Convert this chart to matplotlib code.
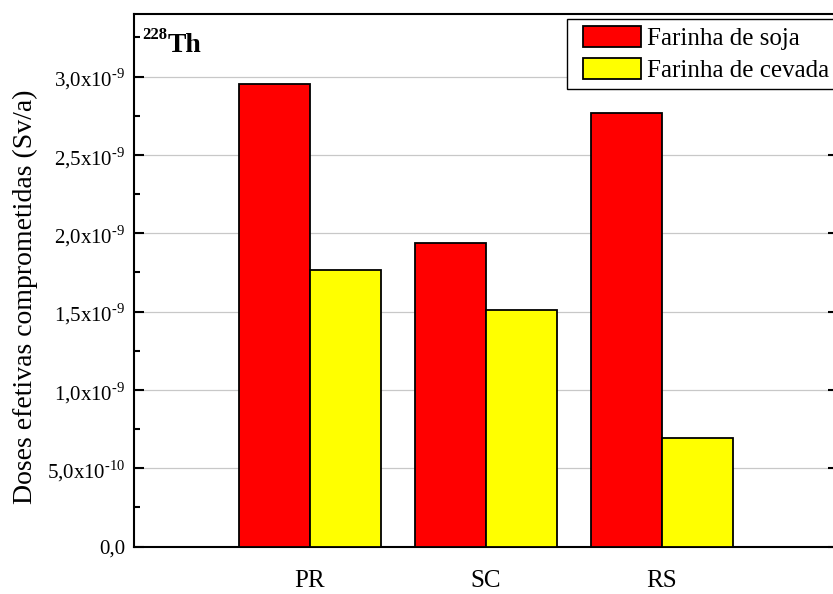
import matplotlib
matplotlib.use("Agg")
import matplotlib.pyplot as plt
from matplotlib.ticker import FixedLocator, MultipleLocator
from matplotlib.legend_handler import HandlerPatch
from matplotlib.patches import Rectangle
from matplotlib.container import BarContainer
import numpy as np

plt.rcParams['font.family'] = ['Liberation Serif', 'DejaVu Serif']
plt.rcParams['mathtext.fontset'] = 'custom'
plt.rcParams['mathtext.rm'] = 'Liberation Serif'

# Data
regions = ['PR', 'SC', 'RS']
series_names = ['Farinha de soja', 'Farinha de cevada']
soja = [2.95e-9, 1.94e-9, 2.77e-9]
cevada = [1.766e-9, 1.511e-9, 0.692e-9]
ytick_values = [0.0, 0.5e-9, 1.0e-9, 1.5e-9, 2.0e-9, 2.5e-9, 3.0e-9]
ytick_labels = ['0,0',
                r'5,0x10$^{\text{-10}}$',
                r'1,0x10$^{\text{-9}}$',
                r'1,5x10$^{\text{-9}}$',
                r'2,0x10$^{\text{-9}}$',
                r'2,5x10$^{\text{-9}}$',
                r'3,0x10$^{\text{-9}}$']

W, H = 833, 594
fig = plt.figure(figsize=(W / 100, H / 100), dpi=100)
ax = fig.add_axes([134 / W, (H - 546.6) / H, (838 - 134) / W, (546.6 - 14) / H])

x = np.arange(1, len(regions) + 1)
bw = 0.403
ax.bar(x - bw / 2, soja, width=bw, color='#ff0000', edgecolor='black',
       linewidth=1.3, label=series_names[0], zorder=3)
ax.bar(x + bw / 2, cevada, width=bw, color='#ffff00', edgecolor='black',
       linewidth=1.3, label=series_names[1], zorder=3)

ax.set_xlim(0, 4)
ax.set_ylim(0, 3.4e-9)

ax.set_xticks(x)
ax.set_xticklabels(regions, fontsize=18)
ax.tick_params(axis='x', length=0, pad=17)

ax.yaxis.set_major_locator(FixedLocator(ytick_values))
ax.set_yticklabels(ytick_labels, fontsize=15)
ax.yaxis.set_minor_locator(MultipleLocator(0.25e-9))
ax.tick_params(axis='y', which='major', direction='in', length=7.5, width=1.5,
               pad=6, right=True)
ax.tick_params(axis='y', which='minor', direction='in', length=4.5, width=1.5,
               right=False)

ax.yaxis.grid(True, which='major', color='#c8c8c8', linewidth=0.9, zorder=0)
ax.set_axisbelow(True)

for s in ax.spines.values():
    s.set_linewidth(1.5)

ax.set_ylabel('Doses efetivas comprometidas (Sv/a)', fontsize=20)
ax.yaxis.set_label_coords(38 / W, 0.5, transform=fig.transFigure)

# Nuclide tag
fig.text(142 / W, 1 - 39 / H, '228', fontsize=12, fontweight='bold',
         ha='left', va='baseline')
fig.text(168 / W, 1 - 52 / H, 'Th', fontsize=20, fontweight='bold',
         ha='left', va='baseline')


# Legend swatches sit inset from the frame's left edge
def inset_swatch(legend, orig_handle, xdescent, ydescent, width, height, fontsize):
    off = 0.34 * fontsize
    return Rectangle((-xdescent + off, -ydescent), width - off, height)


def first_bar_style(legend_handle, orig_handle):
    legend_handle.update_from(orig_handle[0])


swatch_handler = HandlerPatch(patch_func=inset_swatch, update_func=first_bar_style)

leg = ax.legend(loc='upper left', bbox_to_anchor=(567 / W, 1 - 19 / H),
                bbox_transform=fig.transFigure, borderaxespad=0,
                fontsize=18, frameon=True, fancybox=False,
                edgecolor='black', framealpha=1, handlelength=2.66,
                handleheight=0.92, handletextpad=0.26, labelspacing=0.3,
                borderpad=0.28,
                handler_map={BarContainer: swatch_handler})
leg.get_frame().set_linewidth(1.0)
leg.set_zorder(10)

fig.savefig('out.png', dpi=100)
